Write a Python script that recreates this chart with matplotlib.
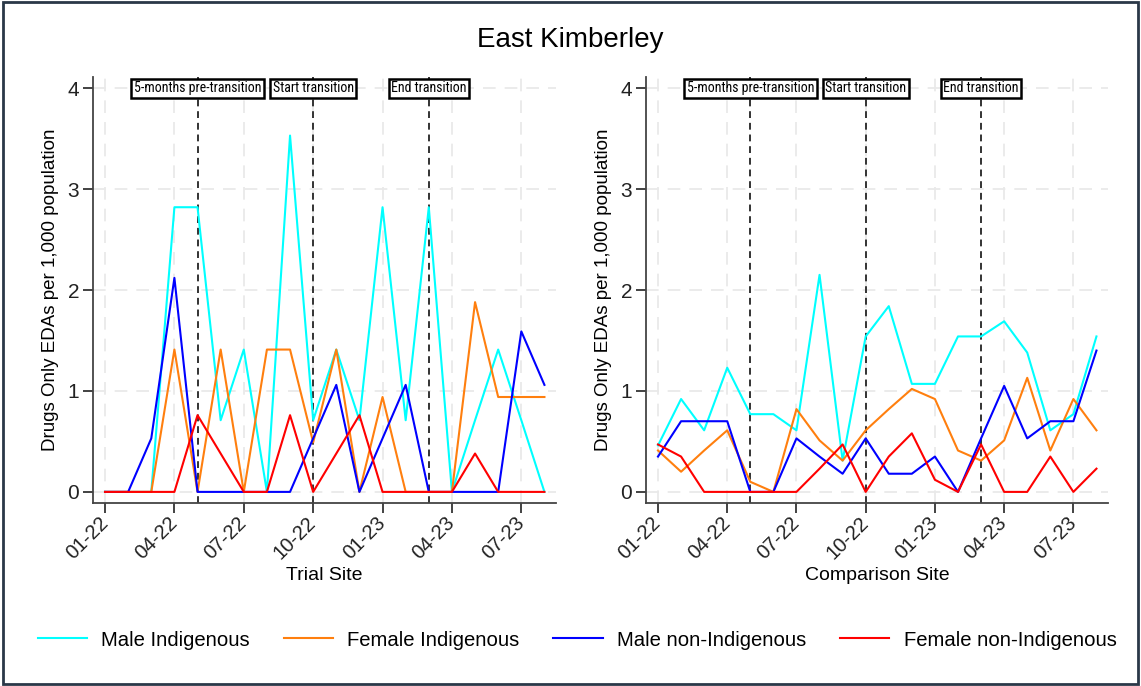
import numpy as np
import matplotlib
matplotlib.use('Agg')
import matplotlib.pyplot as plt
from matplotlib import font_manager
from matplotlib.patches import Rectangle

# Fuentes: Arial-compatible, y una version angosta para las etiquetas de eventos
nombres = {f.name for f in font_manager.fontManager.ttflist}
fuente = 'Liberation Sans' if 'Liberation Sans' in nombres else 'DejaVu Sans'
fuente_angosta, tam_evento = fuente, 8.4
for cand in ['Liberation Sans Narrow', 'Roboto Condensed', 'Open Sans Condensed']:
    if cand in nombres:
        fuente_angosta, tam_evento = cand, 10
        break
plt.rcParams['font.family'] = [fuente, 'DejaVu Sans']

# Meses 01-22 a 08-23
meses = ['01-22', '02-22', '03-22', '04-22', '05-22', '06-22', '07-22', '08-22', '09-22', '10-22',
         '11-22', '12-22', '01-23', '02-23', '03-23', '04-23', '05-23', '06-23', '07-23', '08-23']
ticks_mes = ['01-22', '04-22', '07-22', '10-22', '01-23', '04-23', '07-23']

series = ['Male Indigenous', 'Female Indigenous', 'Male non-Indigenous', 'Female non-Indigenous']
colores = ['#00ffff', '#ff7f0e', '#0000ff', '#ff0000']

# Sitio de prueba (tasa por 1,000)
trial_male_ind = [0, 0, 0, 2.82, 2.82, 0.71, 1.41, 0, 3.53, 0.71,
                  1.41, 0.71, 2.82, 0.71, 2.82, 0, 0.71, 1.41, 0.71, 0]
trial_female_ind = [0, 0, 0, 1.41, 0, 1.41, 0, 1.41, 1.41, 0.49,
                    1.41, 0, 0.94, 0, 0, 0, 1.88, 0.94, 0.94, 0.94]
trial_male_non = [0, 0, 0.53, 2.12, 0, 0, 0, 0, 0, 0.53,
                  1.06, 0, 0.53, 1.06, 0, 0, 0, 0, 1.59, 1.06]
trial_female_non = [0, 0, 0, 0, 0.76, 0.38, 0, 0, 0.76, 0,
                    0.38, 0.76, 0, 0, 0, 0, 0.38, 0, 0, 0]

# Sitio de comparacion
comp_male_ind = [0.46, 0.92, 0.61, 1.23, 0.77, 0.77, 0.61, 2.15, 0.31, 1.54,
                 1.84, 1.07, 1.07, 1.54, 1.54, 1.69, 1.38, 0.61, 0.77, 1.54]
comp_female_ind = [0.41, 0.20, 0.41, 0.61, 0.10, 0, 0.82, 0.51, 0.31, 0.61,
                   0.82, 1.02, 0.92, 0.41, 0.31, 0.51, 1.13, 0.41, 0.92, 0.61]
comp_male_non = [0.35, 0.70, 0.70, 0.70, 0, 0, 0.53, 0.35, 0.18, 0.53,
                 0.18, 0.18, 0.35, 0, 0.53, 1.05, 0.53, 0.70, 0.70, 1.40]
comp_female_non = [0.47, 0.35, 0, 0, 0, 0, 0, 0.23, 0.47, 0,
                   0.35, 0.58, 0.12, 0, 0.47, 0, 0, 0.35, 0, 0.23]

# Eventos (mes) y sus etiquetas
eventos = ['05-22', '10-22', '03-23']
etiquetas_eventos = ['5-months pre-transition', 'Start transition', 'End transition']

W, H = 1141, 686
fig = plt.figure(figsize=(W / 100, H / 100), dpi=100)
fig.patch.set_facecolor('white')

ax1 = fig.add_axes([93 / W, 1 - 503 / H, 463 / W, 426 / H])
ax2 = fig.add_axes([646 / W, 1 - 503 / H, 462 / W, 426 / H])

x = np.arange(len(meses))
datos = [
    (ax1, [trial_male_ind, trial_female_ind, trial_male_non, trial_female_non], 'Trial Site'),
    (ax2, [comp_male_ind, comp_female_ind, comp_male_non, comp_female_non], 'Comparison Site'),
]

for ax, ys, nombre in datos:
    for y, c, lab in zip(ys, colores, series):
        ax.plot(x, y, color=c, lw=1.5, label=lab, zorder=3)

    for ev, txt in zip(eventos, etiquetas_eventos):
        xe = meses.index(ev)
        ax.axvline(xe, color='#333333', lw=1.4, ls=(0, (3.5, 2.5)), zorder=2)
        ax.text(xe, 4, txt, ha='center', va='center', fontsize=tam_evento, family=fuente_angosta,
                zorder=5, bbox=dict(boxstyle='square,pad=0.18', fc='white', ec='black', lw=1.8))

    ax.set_xlim(-0.52, 19.5)
    ax.set_ylim(-0.11, 4.11)
    pos = [meses.index(m) for m in ticks_mes]
    ax.set_xticks(pos)
    ax.set_xticklabels(ticks_mes, rotation=45, ha='right', va='center', rotation_mode='anchor',
                       fontsize=14.5)
    ax.set_yticks([0, 1, 2, 3, 4])
    ax.tick_params(axis='y', labelsize=15, length=7, width=1.2, pad=3, colors='#222222')
    ax.tick_params(axis='x', length=7, width=1.2, pad=5, colors='#222222')
    ax.grid(True, color='#e9e9e9', lw=1.3, ls=(0, (7, 5)), zorder=0)
    for s in ['top', 'right']:
        ax.spines[s].set_visible(False)
    for s in ['left', 'bottom']:
        ax.spines[s].set_color('#444444')
        ax.spines[s].set_linewidth(1.3)
    ax.set_xlabel(nombre, fontsize=14, labelpad=3)
    ax.set_ylabel('Drugs Only EDAs per 1,000 population', fontsize=13.5, labelpad=6)

fig.text(0.5, 1 - 40 / H, 'East Kimberley', ha='center', va='center', fontsize=20)

handles, labels = ax1.get_legend_handles_labels()
fig.legend(handles, labels, loc='center', bbox_to_anchor=(577 / W, 1 - 640 / H), ncol=4,
           frameon=False, fontsize=14.6, handlelength=2.45, handletextpad=0.7,
           columnspacing=1.65)

# Marco exterior
fig.patches.append(Rectangle((0.003, 0.003), 0.994, 0.994, transform=fig.transFigure,
                             fill=False, ec='#2a3848', lw=2))

fig.savefig('out.png', dpi=100)
